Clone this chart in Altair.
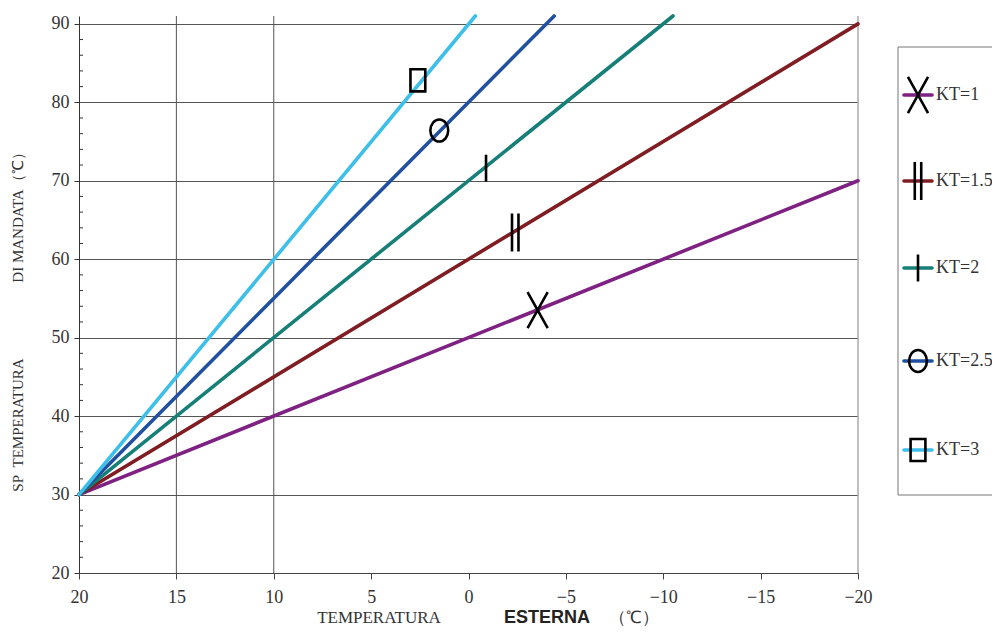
import altair as alt
import pandas as pd

# ---- data ----
kt_labels = ["KT=1", "KT=1.5", "KT=2", "KT=2.5", "KT=3"]
kt_colors = ["#7E2182", "#7F1D22", "#167F78", "#2150A0", "#3EBFEA"]
x_start = [20, 20, 20, 20, 20]
y_start = [30, 30, 30, 30, 30]
x_end = [-20, -20, -10.5, -4.4, -0.35]
y_end = [70, 90, 91, 91, 91]

# marker positions on the lines
marker_x = [-3.55, -2.4, -0.9, 1.5, 2.6]
marker_y = [53.5, 63.4, 71.6, 76.4, 82.8]

x_ticks = [20, 15, 10, 5, 0, -5, -10, -15, -20]
y_ticks = [20, 30, 40, 50, 60, 70, 80, 90]
y_minor = [22, 24, 26, 28, 32, 34, 36, 38, 42, 44, 46, 48, 52, 54, 56, 58,
           62, 64, 66, 68, 72, 74, 76, 78, 82, 84, 86, 88]
x_grid = [15, 10]
x_border = [-20]


def ellipse(rx, ry):
    k = 0.5523
    return (f"M0,{-ry}C{k*rx},{-ry} {rx},{-k*ry} {rx},0"
            f"C{rx},{k*ry} {k*rx},{ry} 0,{ry}"
            f"C{-k*rx},{ry} {-rx},{k*ry} {-rx},0"
            f"C{-rx},{-k*ry} {-k*rx},{-ry} 0,{-ry}Z")


marker_shapes = [
    "M-0.53,-0.95L0.53,0.95M0.53,-0.95L-0.53,0.95",
    "M-0.17,-1L-0.17,1M0.17,-1L0.17,1",
    "M0,-0.71L0,0.71",
    ellipse(0.47, 0.58),
    "M-0.39,-0.58L0.39,-0.58L0.39,0.58L-0.39,0.58Z",
]

W, H = 779, 557
SERIF = "Liberation Serif"

rows = []
for lab, xs, ys, xe, ye in zip(kt_labels, x_start, y_start, x_end, y_end):
    rows.append({"kt": lab, "x": xs, "y": ys})
    rows.append({"kt": lab, "x": xe, "y": ye})
lines_df = pd.DataFrame(rows)

xscale = alt.Scale(domain=[-20, 20], reverse=True, nice=False, zero=False)
yscale = alt.Scale(domain=[20, 91], nice=False, zero=False)
cscale = alt.Scale(domain=kt_labels, range=kt_colors)

xaxis = alt.Axis(values=x_ticks, title=None, grid=False, tickSize=6, labelPadding=9,
                 labelFont=SERIF, labelFontSize=18, labelColor="#333",
                 domainColor="#444", tickColor="#444", labelFlush=False)
yaxis = alt.Axis(values=y_ticks, title=None, grid=True, gridColor="#555", gridWidth=1,
                 tickSize=5, labelPadding=5, labelFont=SERIF, labelFontSize=18,
                 labelColor="#333", domainColor="#333", tickColor="#333")

lines = alt.Chart(lines_df).mark_line(strokeWidth=3.6, strokeCap="round").encode(
    x=alt.X("x:Q", scale=xscale, axis=xaxis),
    y=alt.Y("y:Q", scale=yscale, axis=yaxis),
    color=alt.Color("kt:N", scale=cscale, legend=None),
    order=alt.Order("x:Q"),
)

vgrid = alt.Chart(pd.DataFrame({"x": x_grid})).mark_rule(color="#555", strokeWidth=1).encode(
    x=alt.X("x:Q", scale=xscale), y=alt.value(0), y2=alt.value(H))
vborder = alt.Chart(pd.DataFrame({"x": x_border})).mark_rule(color="#aaa", strokeWidth=1.5).encode(
    x=alt.X("x:Q", scale=xscale), y=alt.value(0), y2=alt.value(H))
minor = alt.Chart(pd.DataFrame({"y": y_minor})).mark_rule(color="#333", strokeWidth=1).encode(
    y=alt.Y("y:Q", scale=yscale), x=alt.value(0), x2=alt.value(4))

mk_df = pd.DataFrame({"kt": kt_labels, "x": marker_x, "y": marker_y, "shape": marker_shapes})
markers = alt.Chart(mk_df).mark_point(filled=False, stroke="black", strokeWidth=2.6,
                                      size=1444, opacity=1).encode(
    x=alt.X("x:Q", scale=xscale), y=alt.Y("y:Q", scale=yscale),
    shape=alt.Shape("shape:N", scale=None, legend=None))

one = pd.DataFrame({"a": [0]})
layers = [vgrid, vborder, minor, lines, markers]

# axis titles
layers.append(alt.Chart(one).mark_text(text="SP\u00a0\u00a0TEMPERATURA", angle=270, font=SERIF,
                                       fontSize=15, color="#333").encode(
    x=alt.value(-61), y=alt.value(409)))
layers.append(alt.Chart(one).mark_text(text="DI MANDATA（℃）", angle=270, font=SERIF,
                                       fontSize=15, color="#333").encode(
    x=alt.value(-61), y=alt.value(198)))
layers.append(alt.Chart(one).mark_text(text="TEMPERATURA", font=SERIF, fontSize=17,
                                       baseline="bottom", color="#333").encode(
    x=alt.value(300), y=alt.value(H + 54)))
layers.append(alt.Chart(one).mark_text(text="ESTERNA", font="Liberation Sans", fontWeight="bold",
                                       fontSize=18, baseline="bottom", color="#222").encode(
    x=alt.value(468), y=alt.value(H + 54)))
layers.append(alt.Chart(one).mark_text(text="（℃）", font=SERIF, fontSize=17,
                                       baseline="bottom", color="#333").encode(
    x=alt.value(555), y=alt.value(H + 54)))

# legend box
layers.append(alt.Chart(one).mark_rect(fill="white", stroke="#777", strokeWidth=1).encode(
    x=alt.value(819), x2=alt.value(917), y=alt.value(31), y2=alt.value(479)))
leg_y = [79, 165, 252, 345, 434]
for lab, col, shp, ly in zip(kt_labels, kt_colors, marker_shapes, leg_y):
    layers.append(alt.Chart(one).mark_rule(color=col, strokeWidth=3.6, strokeCap="round").encode(
        x=alt.value(825), x2=alt.value(853), y=alt.value(ly)))
    layers.append(alt.Chart(one).mark_point(shape=shp, filled=False, stroke="black", strokeWidth=2.6,
                                            size=1444, opacity=1).encode(
        x=alt.value(839), y=alt.value(ly)))
    layers.append(alt.Chart(one).mark_text(text=lab, font=SERIF, fontSize=18, color="#333",
                                           align="left", baseline="middle").encode(
        x=alt.value(857), y=alt.value(ly)))

chart = alt.layer(*layers).properties(
    width=W, height=H,
    autosize=alt.AutoSizeParams(type="none"),
    padding={"left": 71, "top": 8, "right": 134, "bottom": 54},
).configure_view(stroke=None)

chart.save("out.html", embed_options={"renderer": "svg", "actions": False})
